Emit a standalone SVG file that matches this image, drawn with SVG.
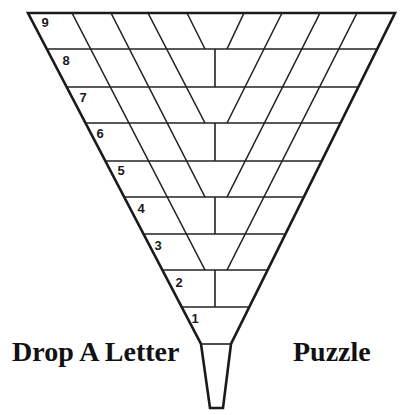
<svg xmlns="http://www.w3.org/2000/svg" width="401" height="415" viewBox="0 0 401 415">
  <style>
    .outline { fill: #ffffff; stroke: #1a1a1a; stroke-width: 2.6; stroke-linejoin: miter; }
    .grid line { stroke: #222222; stroke-width: 1.6; stroke-linecap: butt; }
    .num { font-family: "Liberation Sans", "DejaVu Sans", sans-serif; font-size: 13px; font-weight: bold; fill: #1a1a1a; text-anchor: middle; }
    .title { font-family: "Liberation Serif", "Times New Roman", serif; font-size: 28px; font-weight: bold; fill: #111111; }
  </style>
  <rect width="401" height="415" fill="#ffffff"/>

  <g id="funnel">
    <path class="outline" d="M28,13 L395,13 L231,344 L223,408 L210,408 L201,344 Z"/>
  </g>

  <g id="connectors" class="grid">
    <!-- horizontal row lines -->
    <line x1="46.7" y1="49" x2="377.2" y2="49"/>
    <line x1="66.5" y1="87" x2="358.3" y2="87"/>
    <line x1="85.2" y1="123" x2="340.5" y2="123"/>
    <line x1="104.9" y1="161" x2="321.7" y2="161"/>
    <line x1="123.6" y1="197" x2="303.8" y2="197"/>
    <line x1="142.8" y1="234" x2="285.5" y2="234"/>
    <line x1="161.5" y1="270" x2="267.7" y2="270"/>
    <line x1="180.8" y1="307" x2="249.3" y2="307"/>
    <line x1="201" y1="344" x2="231" y2="344"/>
    <!-- left diagonals -->
    <line x1="187" y1="13" x2="205" y2="49"/>
    <line x1="148" y1="13" x2="205" y2="123"/>
    <line x1="111" y1="13" x2="205" y2="197"/>
    <line x1="72" y1="13" x2="205" y2="270"/>
    <!-- right diagonals -->
    <line x1="244" y1="13" x2="227" y2="49"/>
    <line x1="282" y1="13" x2="227" y2="123"/>
    <line x1="320" y1="13" x2="227" y2="197"/>
    <line x1="357" y1="13" x2="227" y2="270"/>
    <!-- centre dividers -->
    <line x1="215" y1="49" x2="215" y2="87"/>
    <line x1="215" y1="123" x2="215" y2="161"/>
    <line x1="215" y1="197" x2="215" y2="234"/>
    <line x1="215" y1="270" x2="215" y2="307"/>
  </g>

  <g id="row-numbers">
    <text class="num" x="45" y="26.5">9</text>
    <text class="num" x="66" y="64.5">8</text>
    <text class="num" x="83" y="101.5">7</text>
    <text class="num" x="100" y="137.5">6</text>
    <text class="num" x="121" y="174.5">5</text>
    <text class="num" x="141" y="212.5">4</text>
    <text class="num" x="158" y="249.5">3</text>
    <text class="num" x="179" y="286.5">2</text>
    <text class="num" x="195" y="322.5">1</text>
  </g>

  <g id="title-left">
    <text class="title" x="12" y="361">Drop A Letter</text>
  </g>
  <g id="title-right">
    <text class="title" x="293" y="361">Puzzle</text>
  </g>
</svg>
